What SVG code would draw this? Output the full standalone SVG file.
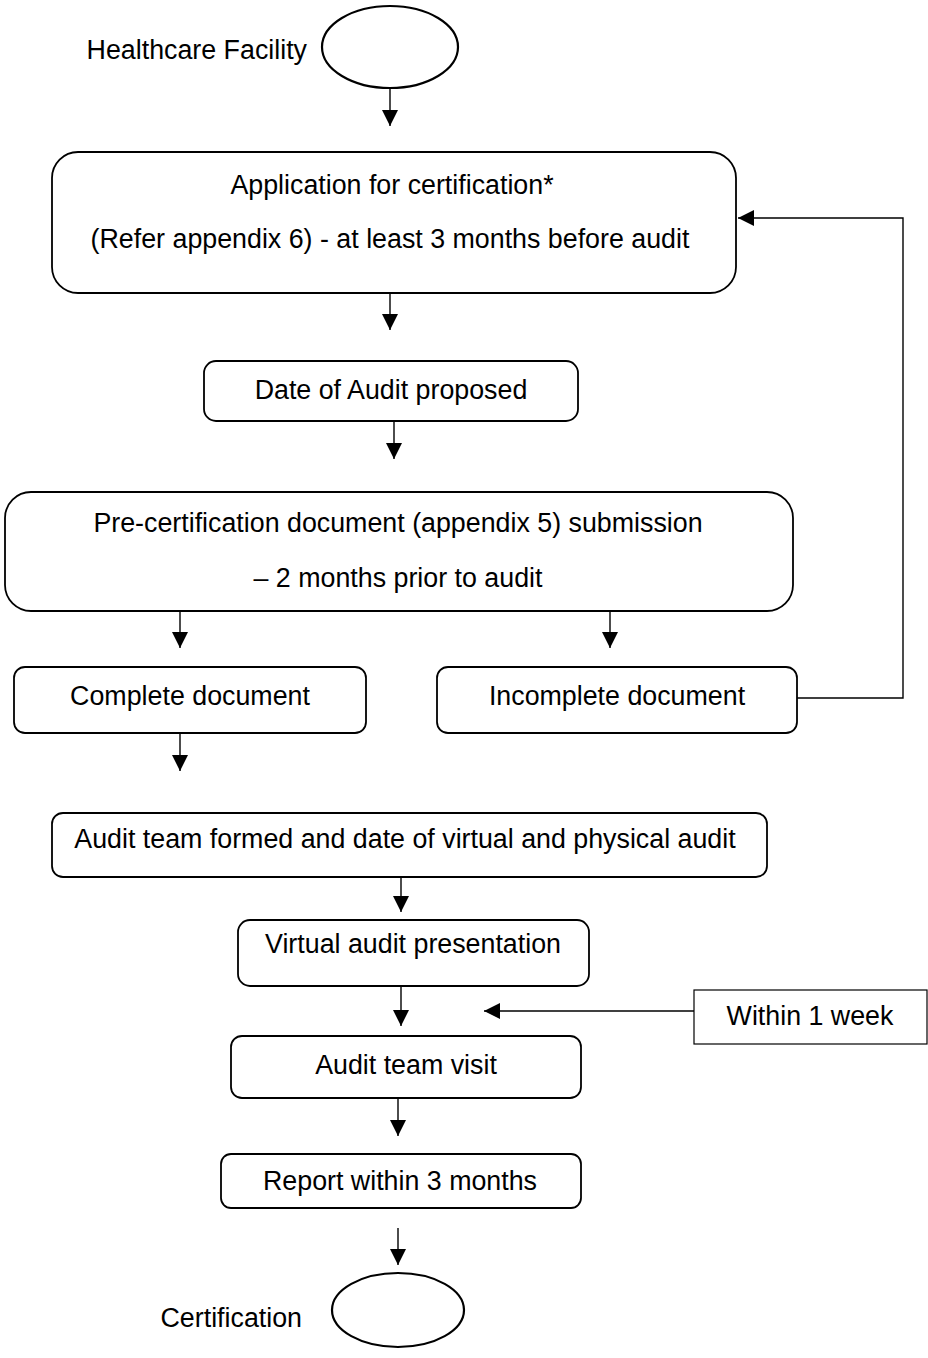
<svg xmlns="http://www.w3.org/2000/svg" width="928" height="1358" viewBox="0 0 928 1358">
<style>
text{font-family:"Liberation Sans",Arial,sans-serif;font-size:26.8px;fill:#000}
.box{fill:#fff;stroke:#000;stroke-width:1.8}
.oval{fill:#fff;stroke:#000;stroke-width:2.2}
.c{text-anchor:middle}
.ln{fill:none;stroke:#000;stroke-width:1.4}
</style>
<defs>
<marker id="ah" markerUnits="userSpaceOnUse" markerWidth="16" markerHeight="16" refX="16" refY="8" orient="auto">
<path d="M0,0 L16,8 L0,16 Z" fill="#000"/>
</marker>
</defs>
<g id="connectors">
<line class="ln" x1="390" y1="88" x2="390" y2="126" marker-end="url(#ah)"/>
<line class="ln" x1="390" y1="293" x2="390" y2="330" marker-end="url(#ah)"/>
<line class="ln" x1="394" y1="421" x2="394" y2="459" marker-end="url(#ah)"/>
<line class="ln" x1="180" y1="612" x2="180" y2="648" marker-end="url(#ah)"/>
<line class="ln" x1="610" y1="612" x2="610" y2="648" marker-end="url(#ah)"/>
<line class="ln" x1="180" y1="733" x2="180" y2="771" marker-end="url(#ah)"/>
<polyline class="ln" points="797,698 903,698 903,218 738,218" marker-end="url(#ah)"/>
<line class="ln" x1="401" y1="877" x2="401" y2="912" marker-end="url(#ah)"/>
<line class="ln" x1="401" y1="986" x2="401" y2="1026" marker-end="url(#ah)"/>
<line class="ln" x1="694" y1="1011" x2="484" y2="1011" marker-end="url(#ah)"/>
<line class="ln" x1="398" y1="1098" x2="398" y2="1136" marker-end="url(#ah)"/>
<line class="ln" x1="398" y1="1228" x2="398" y2="1265" marker-end="url(#ah)"/>
</g>
<g id="start">
<ellipse class="oval" cx="390" cy="47" rx="68" ry="41"/>
<text x="307" y="59" text-anchor="end">Healthcare Facility</text>
</g>
<g id="application">
<rect class="box" x="52" y="152" width="684" height="141" rx="26"/>
<text class="c" x="392" y="194">Application for certification*</text>
<text class="c" x="390" y="248">(Refer appendix 6) - at least 3 months before audit</text>
</g>
<g id="date">
<rect class="box" x="204" y="361" width="374" height="60" rx="12"/>
<text class="c" x="391" y="399">Date of Audit proposed</text>
</g>
<g id="precert">
<rect class="box" x="5" y="492" width="788" height="119" rx="26"/>
<text class="c" x="398" y="532">Pre-certification document (appendix 5) submission</text>
<text class="c" x="398" y="587">– 2 months prior to audit</text>
</g>
<g id="complete">
<rect class="box" x="14" y="667" width="352" height="66" rx="11"/>
<text class="c" x="190" y="705">Complete document</text>
</g>
<g id="incomplete">
<rect class="box" x="437" y="667" width="360" height="66" rx="11"/>
<text class="c" x="617" y="705">Incomplete document</text>
</g>
<g id="team">
<rect class="box" x="52" y="813" width="715" height="64" rx="11"/>
<text class="c" x="405" y="848">Audit team formed and date of virtual and physical audit</text>
</g>
<g id="virtual">
<rect class="box" x="238" y="920" width="351" height="66" rx="12"/>
<text class="c" x="413" y="953">Virtual audit presentation</text>
</g>
<g id="week">
<rect x="694" y="990" width="233" height="54" fill="#fff" stroke="#000" stroke-width="1.2"/>
<text class="c" x="810" y="1025">Within 1 week</text>
</g>
<g id="visit">
<rect class="box" x="231" y="1036" width="350" height="62" rx="11"/>
<text class="c" x="406" y="1074">Audit team visit</text>
</g>
<g id="report">
<rect class="box" x="221" y="1154" width="360" height="54" rx="10"/>
<text class="c" x="400" y="1190">Report within 3 months</text>
</g>
<g id="end">
<ellipse class="oval" cx="398" cy="1310" rx="66" ry="37"/>
<text x="302" y="1327" text-anchor="end">Certification</text>
</g>
</svg>
